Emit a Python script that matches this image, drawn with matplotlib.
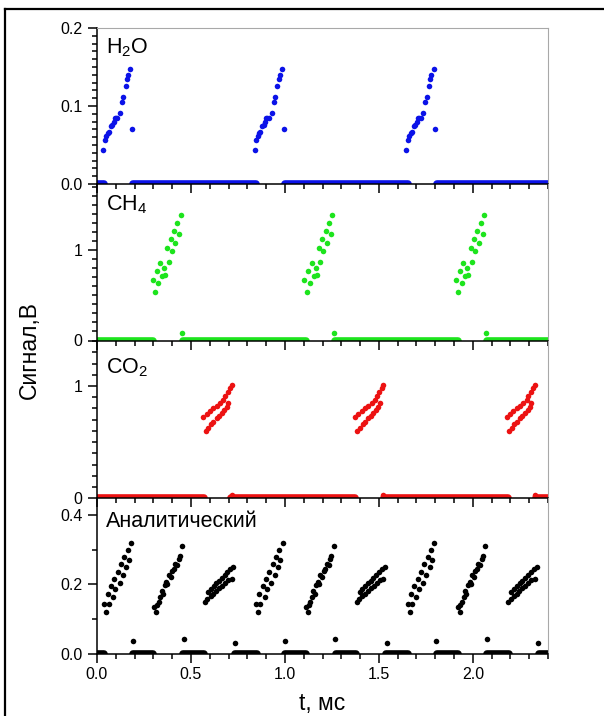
import matplotlib
matplotlib.use("Agg")
import matplotlib.pyplot as plt
import numpy as np
from matplotlib.lines import Line2D
from matplotlib.ticker import MultipleLocator, FormatStrFormatter

plt.rcParams.update({
    "font.family": ["Liberation Sans", "DejaVu Sans"],
    "mathtext.fontset": "custom",
    "mathtext.rm": "Liberation Sans",
    "axes.linewidth": 1.1,
})

# start of each H2O -> CH4 -> CO2 switching cycle, ms
CYCLE = [0.0, 0.807, 1.614]

# H2O channel, first cycle
H2O_T = [0.033, 0.040, 0.048, 0.056, 0.063, 0.072, 0.080, 0.088, 0.094, 0.100,
         0.108, 0.122, 0.134, 0.140, 0.152, 0.160, 0.166, 0.178, 0.186]
H2O_V = [0.044, 0.057, 0.062, 0.066, 0.067, 0.074, 0.076, 0.079, 0.084, 0.085,
         0.084, 0.091, 0.105, 0.111, 0.126, 0.134, 0.140, 0.148, 0.070]
H2O_ZERO = [(0.0, 0.035), (0.19, 0.845), (1.0, 1.655), (1.81, 2.4)]

# CH4 channel, first cycle
CH4_T = [0.296, 0.309, 0.318, 0.326, 0.335, 0.346, 0.356, 0.362, 0.374, 0.381,
         0.392, 0.397, 0.410, 0.417, 0.427, 0.438, 0.445, 0.454]
CH4_V = [0.665, 0.539, 0.771, 0.632, 0.853, 0.718, 0.798, 0.726, 1.019, 0.871,
         1.118, 0.992, 1.213, 1.081, 1.295, 1.177, 1.387, 0.080]
CH4_ZERO = [(0.0, 0.30), (0.455, 1.11), (1.265, 1.92), (2.075, 2.4)]

# CO2 channel, first cycle (two interleaved rows + one point near zero)
CO2_T = [0.566, 0.583, 0.601, 0.619, 0.637, 0.654, 0.672, 0.681, 0.695, 0.707, 0.716,
         0.578, 0.592, 0.606, 0.619, 0.637, 0.649, 0.663, 0.677, 0.690, 0.698, 0.716]
CO2_V = [0.727, 0.748, 0.777, 0.801, 0.825, 0.846, 0.875, 0.914, 0.949, 0.979, 1.009,
         0.599, 0.629, 0.659, 0.682, 0.712, 0.736, 0.757, 0.786, 0.816, 0.846, 0.030]
CO2_ZERO = [(0.0, 0.57), (0.715, 1.375), (1.525, 2.185), (2.335, 2.4)]

# analytical channel, first cycle
ANA_T = [0.039, 0.050, 0.057, 0.062, 0.074, 0.085, 0.092, 0.097, 0.110, 0.121,
         0.128, 0.138, 0.145, 0.156, 0.163, 0.168, 0.181, 0.191,
         0.305, 0.316, 0.320, 0.328, 0.337, 0.345, 0.351, 0.360, 0.369, 0.375,
         0.381, 0.392, 0.400, 0.408, 0.415, 0.426, 0.434, 0.440, 0.452, 0.461,
         0.590, 0.605, 0.620, 0.635, 0.650, 0.664, 0.680, 0.694, 0.710, 0.725,
         0.574, 0.588, 0.604, 0.619, 0.634, 0.650, 0.666, 0.681, 0.697, 0.716, 0.734]
ANA_V = [0.144, 0.122, 0.174, 0.144, 0.195, 0.165, 0.215, 0.186, 0.237, 0.205,
         0.259, 0.227, 0.280, 0.249, 0.299, 0.270, 0.318, 0.038,
         0.134, 0.122, 0.142, 0.150, 0.165, 0.180, 0.174, 0.198, 0.208, 0.200,
         0.227, 0.222, 0.240, 0.246, 0.258, 0.256, 0.272, 0.282, 0.310, 0.042,
         0.179, 0.187, 0.196, 0.204, 0.211, 0.220, 0.228, 0.235, 0.244, 0.251,
         0.150, 0.157, 0.166, 0.173, 0.181, 0.190, 0.197, 0.205, 0.212, 0.217, 0.032]
ANA_ZERO = [(0.0, 0.035), (0.19, 0.30), (0.46, 0.57), (0.735, 0.85), (1.0, 1.11),
            (1.27, 1.38), (1.54, 1.655), (1.81, 1.92), (2.075, 2.19), (2.35, 2.4)]

PANELS = [
    # label, t, v, zero segments, colour, ymax, major, minor, fmt
    (r"H$_2$O", H2O_T, H2O_V, H2O_ZERO, "#0b12e8", 0.2, 0.1, 0.01, "%.1f"),
    (r"CH$_4$", CH4_T, CH4_V, CH4_ZERO, "#1de41d", 1.73, 1, 0.1, "%.0f"),
    (r"CO$_2$", CO2_T, CO2_V, CO2_ZERO, "#ec1212", 1.405, 1, 0.1, "%.0f"),
    ("Аналитический", ANA_T, ANA_V, ANA_ZERO, "#000000", 0.448, 0.2, 0.1, "%.1f"),
]
LABEL_Y = [0.84, 0.829, 0.79, 0.814]

W, H = 604, 716
fig = plt.figure(figsize=(W / 100, H / 100), dpi=100)

# panel edges in pixels from top
edges = [28, 184, 340.5, 498.3, 654]
left, right = 97, 548

for i, (lab, t, v, zero, col, ymax, maj, mnr, fmt) in enumerate(PANELS):
    top, bot = edges[i], edges[i + 1]
    ax = fig.add_axes([left / W, 1 - bot / H, (right - left) / W, (bot - top) / H])
    ax.set_facecolor("none")
    for t0 in CYCLE:
        ax.plot(np.add(t, t0), v, "o", ms=4.0, color=col, mec="none")
    ax.hlines([0] * len(zero), [a for a, b in zero], [b for a, b in zero],
              colors=col, lw=5.5, capstyle="round")
    ax.set_xlim(0, 2.4)
    ax.set_ylim(0, ymax)
    ax.xaxis.set_major_locator(MultipleLocator(0.5))
    ax.xaxis.set_minor_locator(MultipleLocator(0.1))
    ax.yaxis.set_major_locator(MultipleLocator(maj))
    ax.yaxis.set_minor_locator(MultipleLocator(mnr))
    ax.yaxis.set_major_formatter(FormatStrFormatter(fmt))
    ax.xaxis.set_major_formatter(FormatStrFormatter("%.1f"))
    ax.tick_params(which="both", direction="out", top=False, right=False,
                   width=1.1, labelsize=11.5)
    ax.tick_params(which="major", length=6.5)
    ax.tick_params(which="minor", length=3.6)
    ax.tick_params(axis="y", pad=4)
    ax.tick_params(axis="x", labelbottom=(i == 3), pad=3)
    ax.spines["right"].set_color("#a8a8a8")
    ax.spines["right"].set_linewidth(0.8)
    if i == 0:
        ax.spines["top"].set_color("#a8a8a8")
        ax.spines["top"].set_linewidth(0.8)
    else:
        ax.spines["top"].set_visible(False)
    ax.text(0.02, LABEL_Y[i], lab, transform=ax.transAxes, fontsize=15.5,
            va="baseline", ha="left")

fig.text(29 / W, 1 - 350 / H, "Сигнал,В", rotation=90, fontsize=16.5,
         ha="center", va="center")
fig.text(322 / W, 6 / H, "t, мс", fontsize=16.5, ha="center", va="baseline")

# outer frame (only top and left edges fall inside the picture)
fig.add_artist(Line2D([5 / W, 5 / W], [0, 1 - 9 / H], color="k", lw=1.6,
                      transform=fig.transFigure))
fig.add_artist(Line2D([5 / W, 1], [1 - 9 / H, 1 - 9 / H], color="k", lw=1.6,
                      transform=fig.transFigure))

fig.savefig("out.png", dpi=100)
